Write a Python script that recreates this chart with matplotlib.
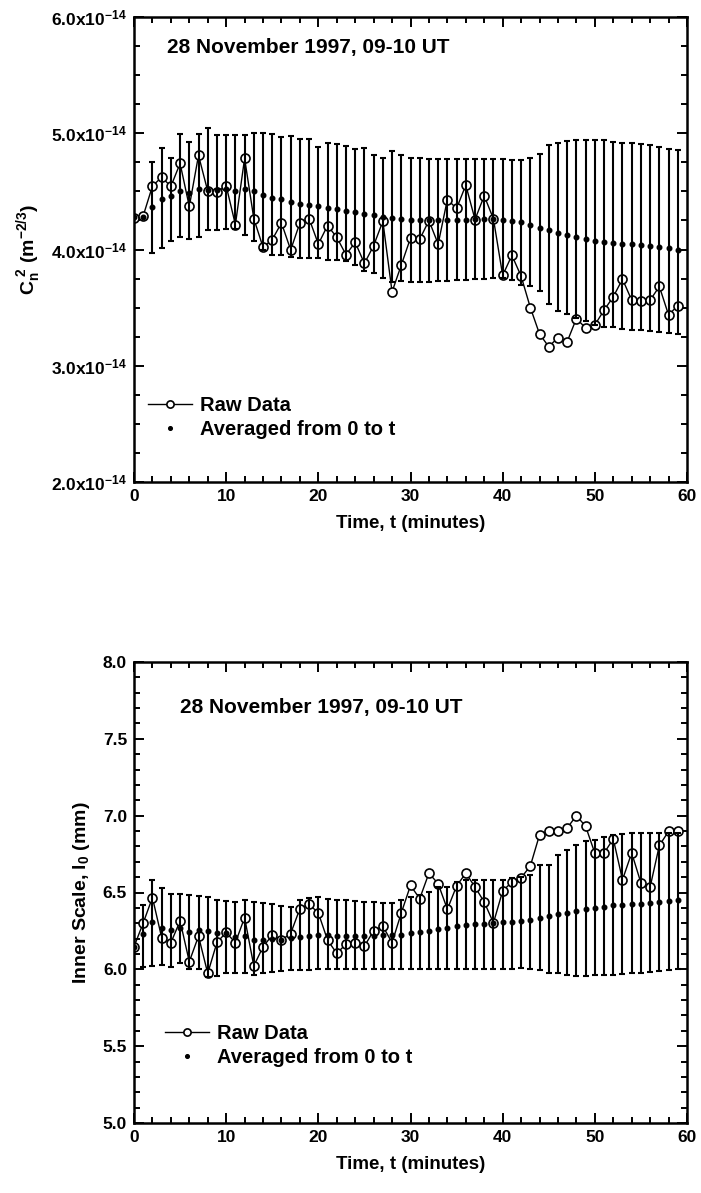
import matplotlib
matplotlib.use("Agg")
import matplotlib.pyplot as plt
from matplotlib.ticker import MultipleLocator, FuncFormatter
import numpy as np

plt.rcParams['font.family'] = ['Liberation Sans', 'DejaVu Sans']
plt.rcParams['font.weight'] = 'bold'
plt.rcParams['axes.labelweight'] = 'bold'
plt.rcParams['mathtext.fontset'] = 'custom'
plt.rcParams['mathtext.rm'] = 'Liberation Sans:bold'
plt.rcParams['mathtext.it'] = 'Liberation Sans:bold:italic'
plt.rcParams['mathtext.bf'] = 'Liberation Sans:bold'

# ---------------- data ----------------
time = list(range(60))

# Top panel: Cn^2 in units of 1e-14 m^-2/3
cn2_raw = [4.27, 4.29, 4.545, 4.623, 4.542, 4.741, 4.370, 4.810, 4.502, 4.496,
           4.548, 4.214, 4.784, 4.266, 4.019, 4.085, 4.229, 3.996, 4.229, 4.266,
           4.047, 4.206, 4.105, 3.955, 4.062, 3.880, 4.033, 4.243, 3.636, 3.866,
           4.099, 4.088, 4.249, 4.047, 4.430, 4.353, 4.554, 4.258, 4.462, 4.263,
           3.777, 3.950, 3.771, 3.501, 3.273, 3.164, 3.242, 3.207, 3.406, 3.325,
           3.351, 3.478, 3.593, 3.745, 3.564, 3.555, 3.564, 3.682, 3.437, 3.518]
cn2_avg = [4.278, 4.280, 4.367, 4.436, 4.459, 4.502, 4.488, 4.522, 4.514, 4.508,
           4.522, 4.502, 4.522, 4.502, 4.465, 4.439, 4.433, 4.410, 4.393, 4.387,
           4.373, 4.358, 4.350, 4.335, 4.324, 4.306, 4.295, 4.278, 4.272, 4.263,
           4.255, 4.255, 4.255, 4.255, 4.255, 4.255, 4.258, 4.260, 4.260, 4.260,
           4.252, 4.249, 4.234, 4.209, 4.186, 4.165, 4.142, 4.122, 4.105, 4.088,
           4.076, 4.062, 4.056, 4.050, 4.045, 4.036, 4.027, 4.019, 4.010, 3.999]
cn2_bar_top = [np.nan, np.nan, 4.755, 4.876, 4.790, 4.991, 4.925, 4.997, 5.043, 4.986,
               4.983, 4.983, 4.983, 5.006, 5.006, 4.997, 4.968, 4.977, 4.948, 4.948,
               4.882, 4.919, 4.905, 4.891, 4.862, 4.876, 4.810, 4.790, 4.847, 4.810,
               4.790, 4.784, 4.781, 4.781, 4.781, 4.781, 4.781, 4.781, 4.781, 4.776,
               4.776, 4.767, 4.767, 4.790, 4.824, 4.896, 4.919, 4.934, 4.940, 4.942,
               4.942, 4.940, 4.928, 4.919, 4.914, 4.905, 4.896, 4.882, 4.862, 4.853]
cn2_bar_bot = [np.nan, np.nan, 3.970, 4.013, 4.070, 4.105, 4.094, 4.111, 4.165, 4.171,
               4.177, 4.177, 4.128, 4.076, 3.999, 3.955, 3.950, 3.935, 3.927, 3.927,
               3.927, 3.912, 3.912, 3.904, 3.869, 3.817, 3.797, 3.754, 3.719, 3.725,
               3.719, 3.719, 3.719, 3.725, 3.731, 3.740, 3.740, 3.745, 3.748, 3.754,
               3.754, 3.740, 3.696, 3.682, 3.639, 3.529, 3.472, 3.443, 3.409, 3.386,
               3.351, 3.337, 3.337, 3.317, 3.308, 3.308, 3.299, 3.294, 3.279, 3.271]

# Bottom panel: inner scale l0 (mm)
l0_raw = [6.147, 6.302, 6.467, 6.207, 6.173, 6.315, 6.050, 6.216, 5.974, 6.175,
          6.240, 6.173, 6.337, 6.022, 6.147, 6.222, 6.190, 6.233, 6.395, 6.423,
          6.367, 6.190, 6.104, 6.164, 6.173, 6.151, 6.251, 6.281, 6.173, 6.367,
          6.546, 6.460, 6.626, 6.557, 6.391, 6.542, 6.626, 6.536, 6.438, 6.302,
          6.510, 6.568, 6.596, 6.672, 6.875, 6.903, 6.903, 6.920, 7.000, 6.931,
          6.756, 6.756, 6.849, 6.583, 6.758, 6.562, 6.536, 6.806, 6.898, 6.898]
l0_avg = [6.147, 6.227, 6.309, 6.270, 6.259, 6.270, 6.244, 6.255, 6.248, 6.238,
          6.238, 6.212, 6.216, 6.194, 6.194, 6.199, 6.194, 6.207, 6.212, 6.220,
          6.222, 6.222, 6.220, 6.216, 6.216, 6.216, 6.220, 6.222, 6.222, 6.222,
          6.238, 6.240, 6.251, 6.263, 6.270, 6.281, 6.287, 6.292, 6.298, 6.302,
          6.305, 6.307, 6.313, 6.324, 6.335, 6.346, 6.359, 6.369, 6.382, 6.393,
          6.402, 6.408, 6.417, 6.421, 6.423, 6.428, 6.432, 6.436, 6.445, 6.454]
l0_bar_top = [np.nan, 6.417, 6.583, 6.529, 6.488, 6.488, 6.482, 6.475, 6.471, 6.454,
              6.445, 6.438, 6.449, 6.438, 6.434, 6.428, 6.413, 6.406, 6.454, 6.467,
              6.471, 6.460, 6.449, 6.449, 6.445, 6.438, 6.438, 6.434, 6.432, 6.449,
              6.471, 6.482, 6.503, 6.536, 6.536, 6.568, 6.583, 6.579, 6.579, 6.579,
              6.583, 6.596, 6.600, 6.611, 6.676, 6.676, 6.747, 6.778, 6.812, 6.834,
              6.842, 6.860, 6.875, 6.881, 6.886, 6.886, 6.886, 6.886, 6.890, 6.890]
l0_bar_bot = [np.nan, 6.017, 6.022, 6.028, 6.017, 6.043, 6.000, 6.004, 5.952, 5.957,
              5.974, 5.978, 5.974, 5.963, 5.978, 5.985, 5.991, 5.996, 5.996, 5.996,
              6.000, 6.000, 6.000, 6.000, 6.000, 6.000, 6.004, 6.004, 6.004, 6.004,
              6.004, 6.000, 6.000, 6.000, 6.000, 6.000, 6.000, 6.000, 6.004, 6.004,
              6.004, 6.004, 6.009, 6.004, 5.996, 5.978, 5.978, 5.963, 5.957, 5.957,
              5.961, 5.961, 5.963, 5.968, 5.974, 5.978, 5.983, 5.991, 5.996, 6.000]

title_text = "28 November 1997, 09-10 UT"
legend_labels = ["Raw Data", "Averaged from 0 to t"]

# ---------------- figure ----------------
W, H = 701, 1193
fig = plt.figure(figsize=(W / 100, H / 100), dpi=100)

def px_axes(l, t, r, b):
    return fig.add_axes([l / W, 1 - b / H, (r - l) / W, (b - t) / H])

ax1 = px_axes(134, 17, 687, 482)
ax2 = px_axes(134, 662, 687, 1123)

def draw_panel(ax, raw, avg, top, bot):
    t = np.array(time)
    avg_a = np.array(avg, float)
    top_a = np.array(top, float)
    bot_a = np.array(bot, float)
    m = ~np.isnan(top_a)
    ax.plot(t, raw, '-', color='black', lw=1.0, marker='o', ms=6.5,
            mfc='white', mec='black', mew=1.2, zorder=2, label=legend_labels[0])
    ax.errorbar(t[m], avg_a[m], yerr=[avg_a[m] - bot_a[m], top_a[m] - avg_a[m]],
                fmt='none', ecolor='black', elinewidth=1.5, capsize=2.4,
                capthick=1.5, zorder=3)
    ax.plot(t, avg, linestyle='none', marker='o', ms=3.3, color='black',
            zorder=4, label=legend_labels[1])

def style_axes(ax):
    ax.set_xlim(0, 60)
    ax.xaxis.set_major_locator(MultipleLocator(10))
    ax.xaxis.set_minor_locator(MultipleLocator(2))
    ax.tick_params(which='both', direction='in', top=True, right=True,
                   width=1.4, labelsize=12.5)
    ax.tick_params(which='major', length=7, pad=5)
    ax.tick_params(which='minor', length=4)
    for s in ax.spines.values():
        s.set_linewidth(1.8)
    ax.set_xlabel("Time, t (minutes)", fontsize=13.5, labelpad=8)

draw_panel(ax1, cn2_raw, cn2_avg, cn2_bar_top, cn2_bar_bot)
style_axes(ax1)
ax1.set_ylim(2.0, 6.0)
ax1.yaxis.set_major_locator(MultipleLocator(1.0))
ax1.yaxis.set_minor_locator(MultipleLocator(0.25))
ax1.yaxis.set_major_formatter(FuncFormatter(
    lambda v, p: r'$\mathrm{%.1fx10}^{\mathrm{-14}}$' % v))
ax1.set_ylabel(r'$\mathrm{C}_\mathrm{n}^{\ 2}\ \mathrm{(m}^{\mathrm{-2/3}}\mathrm{)}$',
               fontsize=14, labelpad=6)
ax1.text(0.06, 0.935, title_text, transform=ax1.transAxes, fontsize=15,
         ha='left', va='center')
ax1.legend(loc='upper left', bbox_to_anchor=(0.0, 0.215), frameon=False,
           fontsize=14.5, handlelength=2.2, handletextpad=0.4, labelspacing=0.25,
           borderaxespad=0.3, markerscale=0.8)

draw_panel(ax2, l0_raw, l0_avg, l0_bar_top, l0_bar_bot)
style_axes(ax2)
ax2.set_ylim(5.0, 8.0)
ax2.yaxis.set_major_locator(MultipleLocator(0.5))
ax2.yaxis.set_minor_locator(MultipleLocator(0.1))
ax2.yaxis.set_major_formatter(FuncFormatter(lambda v, p: '%.1f' % v))
ax2.set_ylabel(r'Inner Scale, l$_\mathrm{0}$ (mm)', fontsize=14, labelpad=8)
ax2.text(0.083, 0.902, title_text, transform=ax2.transAxes, fontsize=15,
         ha='left', va='center')
ax2.legend(loc='upper left', bbox_to_anchor=(0.03, 0.245), frameon=False,
           fontsize=14.5, handlelength=2.2, handletextpad=0.4, labelspacing=0.25,
           borderaxespad=0.3, markerscale=0.8)

fig.savefig('out.png', dpi=100)
